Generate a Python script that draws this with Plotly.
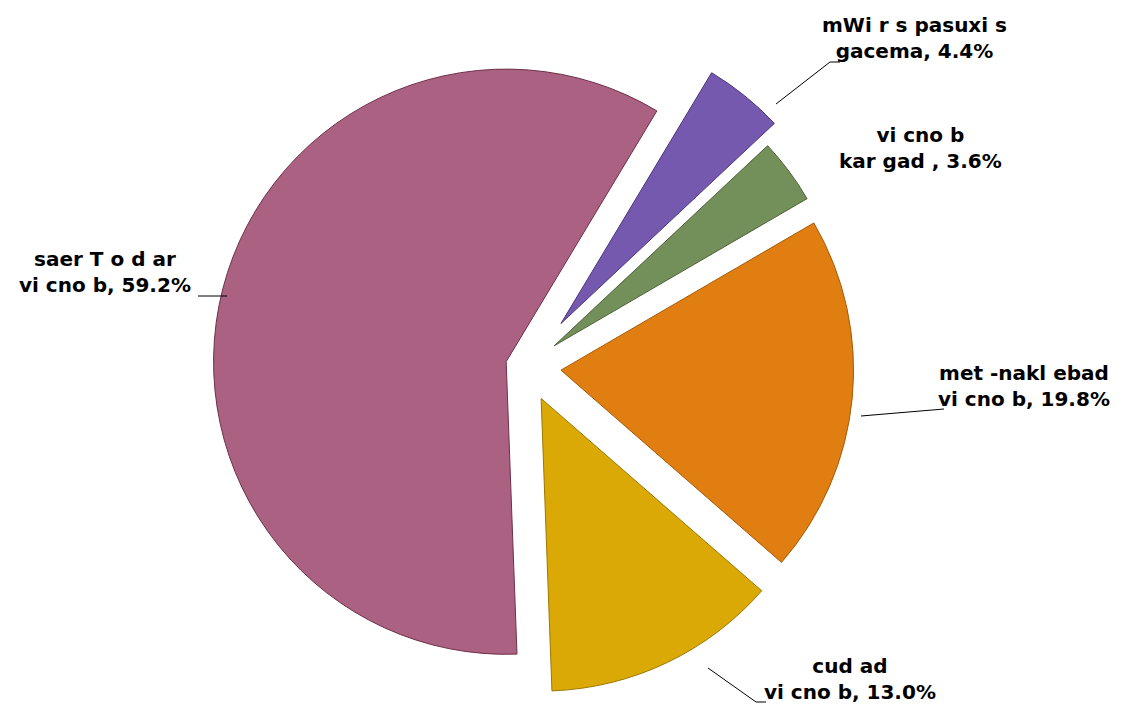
import plotly.graph_objects as go

W, H = 1121, 707

# slice data, clockwise from the purple slice
names = [
    "mWi r s pasuxi s<br>gacema",
    "vi cno b<br>kar gad ",
    "met -nakl ebad<br>vi cno b",
    "cud ad<br>vi cno b",
    "saer T o d ar<br>vi cno b",
]
shares = [4.4, 3.6, 19.8, 13.0, 59.2]
colors = ["#7459AE", "#73905B", "#E07E12", "#DAA906", "#AB6181"]
edges = ["#4B347F", "#4C6236", "#A65A06", "#9C7700", "#6E3049"]
pulls = [0.19, 0.12, 0.12, 0.12, 0.07]

# label centres and leader lines, in pixels of the picture
label_pos = [(906, 30), (912, 140), (1016, 378), (842, 671), (97, 264)]
leaders = [
    [(768, 96), (822, 54), (832, 54)],
    [],
    [(853, 408), (936, 401)],
    [(700, 660), (748, 694), (758, 694)],
    [(190, 288), (219, 288)],
]


def px_x(x):
    return x / W


def px_y(y):
    return 1 - y / H


fig = go.Figure(
    go.Pie(
        labels=names,
        values=shares,
        sort=False,
        direction="clockwise",
        rotation=31,
        pull=pulls,
        textinfo="none",
        hoverinfo="label+percent",
        marker=dict(colors=colors, line=dict(color=edges, width=1)),
        domain=dict(x=[0, 1036 / W], y=[0, 0.985]),
        showlegend=False,
    )
)

for name, share, (lx, ly) in zip(names, shares, label_pos):
    fig.add_annotation(
        x=px_x(lx), y=px_y(ly), xref="paper", yref="paper",
        text=f"{name}, {share:.1f}%", showarrow=False,
        font=dict(family="DejaVu Sans", size=20, color="black", weight="bold"),
        align="center", xanchor="center", yanchor="middle",
    )

for pts in leaders:
    for (x0, y0), (x1, y1) in zip(pts[:-1], pts[1:]):
        fig.add_shape(
            type="line", xref="paper", yref="paper",
            x0=px_x(x0), y0=px_y(y0), x1=px_x(x1), y1=px_y(y1),
            line=dict(color="black", width=1),
        )

fig.update_layout(
    width=W, height=H,
    margin=dict(l=0, r=0, t=0, b=0),
    paper_bgcolor="white", plot_bgcolor="white",
)

fig.write_html("out.html")
